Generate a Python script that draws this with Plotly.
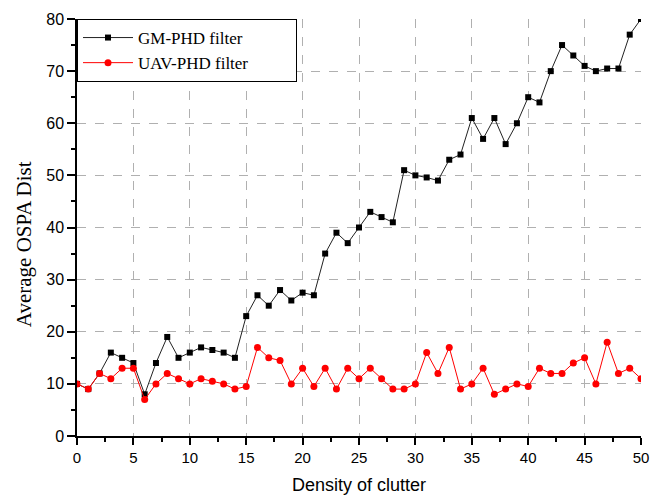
import plotly.graph_objects as go

density = list(range(0, 51))
gm_phd = [10, 9, 12, 16, 15, 14, 8, 14, 19, 15, 16, 17, 16.5, 16, 15, 23, 27, 25, 28, 26,
          27.5, 27, 35, 39, 37, 40, 43, 42, 41, 51, 50, 49.6, 49, 53, 54, 61, 57, 61, 56, 60,
          65, 64, 70, 75, 73, 71, 70, 70.5, 70.5, 77, 80]
uav_phd = [10, 9, 12, 11, 13, 13, 7, 10, 12, 11, 10, 11, 10.5, 10, 9, 9.5, 17, 15, 14.5, 10,
           13, 9.5, 13, 9, 13, 11, 13, 11, 9, 9, 10, 16, 12, 17, 9, 10, 13, 8, 9, 10,
           9.5, 13, 12, 12, 14, 15, 10, 18, 12, 13, 11]

x_ticks = [0, 5, 10, 15, 20, 25, 30, 35, 40, 45, 50]
y_ticks = [0, 10, 20, 30, 40, 50, 60, 70, 80]

pad = "\u00a0" * 10
fig = go.Figure()
fig.add_trace(go.Scatter(
    x=density, y=gm_phd, mode="lines+markers", name="GM-PHD filter" + pad,
    line=dict(color="#222222", width=1),
    marker=dict(symbol="square", size=6, color="black"),
))
fig.add_trace(go.Scatter(
    x=density, y=uav_phd, mode="lines+markers", name="UAV-PHD filter" + pad,
    line=dict(color="#ff0000", width=1),
    marker=dict(symbol="circle", size=7, color="#ff0000"),
))

sans = "Liberation Sans, Arial, sans-serif"
serif = "Liberation Serif, Times New Roman, serif"

fig.update_layout(
    width=659, height=502,
    margin=dict(l=77, r=10, t=19, b=65),
    paper_bgcolor="white", plot_bgcolor="white",
    showlegend=True,
    legend=dict(
        x=0, y=1, xanchor="left", yanchor="top",
        bgcolor="white", bordercolor="black", borderwidth=1,
        font=dict(family=serif, size=17, color="black"),
        itemwidth=50, tracegroupgap=0,
    ),
    xaxis=dict(
        range=[0, 50], tickmode="array", tickvals=x_ticks, ticktext=[str(v) for v in x_ticks],
        ticks="outside", ticklen=7, tickwidth=1.5, tickcolor="black",
        minor=dict(tickmode="linear", tick0=0, dtick=2.5, ticks="outside", ticklen=4,
                   tickwidth=1.5, tickcolor="black"),
        showline=True, linecolor="black", linewidth=1.5,
        showgrid=True, gridcolor="#b0b0b0", griddash="dash", gridwidth=1,
        zeroline=False,
        tickfont=dict(family=sans, size=15, color="black"),
        title=dict(text="Density of clutter", font=dict(family=sans, size=18, color="black"), standoff=14),
    ),
    yaxis=dict(
        range=[0, 80], tickmode="array", tickvals=y_ticks, ticktext=[str(v) for v in y_ticks],
        ticks="outside", ticklen=8, tickwidth=1.5, tickcolor="black",
        minor=dict(tickmode="linear", tick0=0, dtick=5, ticks="outside", ticklen=4,
                   tickwidth=1.5, tickcolor="black"),
        showline=True, linecolor="black", linewidth=1.5,
        showgrid=True, gridcolor="#b0b0b0", griddash="dash", gridwidth=1,
        zeroline=False,
        tickfont=dict(family=sans, size=16, color="black"),
    ),
    xaxis2=dict(
        overlaying="x", side="top", range=[0, 50], tickmode="array", tickvals=x_ticks,
        ticks="inside", ticklen=5, tickwidth=1.5, tickcolor="black",
        minor=dict(tickmode="linear", tick0=0, dtick=2.5, ticks="inside", ticklen=3,
                   tickwidth=1.5, tickcolor="black"),
        showticklabels=False, showgrid=False, zeroline=False,
        showline=True, linecolor="black", linewidth=1.5,
    ),
    yaxis2=dict(
        overlaying="y", side="right", range=[0, 80], tickmode="array", tickvals=y_ticks,
        ticks="inside", ticklen=5, tickwidth=1.5, tickcolor="black",
        minor=dict(tickmode="linear", tick0=0, dtick=5, ticks="inside", ticklen=3,
                   tickwidth=1.5, tickcolor="black"),
        showticklabels=False, showgrid=False, zeroline=False,
        showline=True, linecolor="black", linewidth=1.5,
    ),
    annotations=[dict(
        text="Average OSPA Dist", textangle=-90, showarrow=False,
        xref="paper", yref="paper", x=-0.094, y=0.46,
        xanchor="center", yanchor="middle",
        font=dict(family=serif, size=21, color="black"),
    )],
)

fig.write_html("out.html")
